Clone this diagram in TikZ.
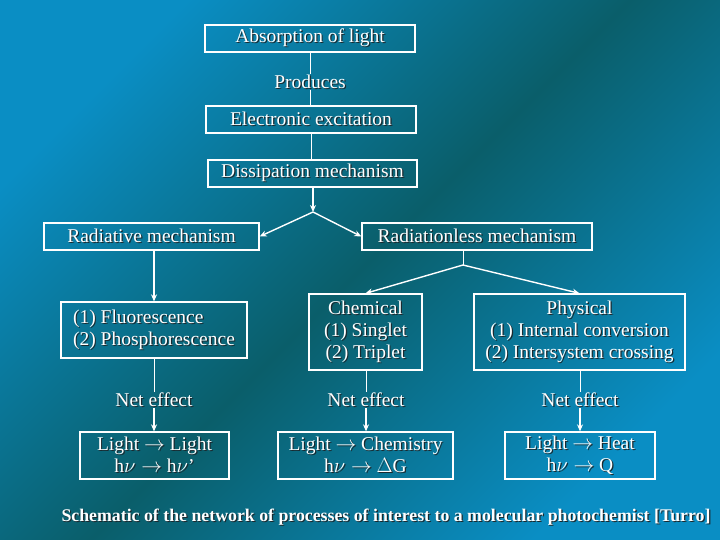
\documentclass[tikz,border=0pt]{standalone}
\usepackage{fontspec}
\setmainfont{Liberation Serif}
\usetikzlibrary{arrows.meta}
\definecolor{bgA}{HTML}{0A8EC4}
\definecolor{bgD}{HTML}{0A5E6A}
\definecolor{shc}{HTML}{1A2A30}
\newcommand\sht[1]{\leavevmode\rlap{\kern1.2pt\raisebox{-1.2pt}{\color{shc}#1}}#1}
\begin{document}
\begin{tikzpicture}[x=1pt,y=-1pt,
  txt/.style={text=white,font=\fontsize{19.5}{22}\selectfont,inner sep=0pt,align=center},
  box/.style={draw=white,line width=1.3pt,minimum height=27pt,inner sep=0pt},
  thin/.style={draw=white,line width=0.6pt},
  arr/.style={draw=white,line width=1.4pt,-{Stealth[length=7pt,width=6pt]}}]
\useasboundingbox (0,0) rectangle (720,540);
\shade[top color=bgA,bottom color=bgA,middle color=bgD,shading angle=45] (0,0) rectangle (720,540);
% boxes
\node[box,txt,minimum width=210pt] (abs) at (310,38.5) {\sht{Absorption of light}};
\node[txt] (prod) at (310,82) {\sht{Produces}};
\node[box,txt,minimum width=210pt] (elec) at (311,119.5) {\sht{Electronic excitation}};
\node[box,txt,minimum width=209pt] (diss) at (312.5,173.5) {\sht{Dissipation mechanism}};
\coordinate (sp1) at (313,212);
\node[box,txt,minimum width=215pt] (rad) at (151.5,236.5) {\sht{Radiative mechanism}};
\node[box,txt,minimum width=230pt] (rless) at (477,236.5) {\sht{Radiationless mechanism}};
\coordinate (sp2) at (463,265);
\node[box,txt,minimum width=186pt,minimum height=56pt,align=left] (fl) at (154,330) {\sht{(1) Fluorescence}\\\sht{(2) Phosphorescence}};
\node[box,txt,minimum width=113pt,minimum height=76pt] (chem) at (365.5,332) {\sht{Chemical}\\\sht{(1) Singlet}\\\sht{(2) Triplet}};
\node[box,txt,minimum width=211pt,minimum height=76pt] (phys) at (579.5,332) {\sht{Physical}\\\sht{(1) Internal conversion}\\\sht{(2) Intersystem crossing}};
\node[txt] (n1) at (154,400) {\sht{Net effect}};
\node[txt] (n2) at (366,400) {\sht{Net effect}};
\node[txt] (n3) at (580,400) {\sht{Net effect}};
\node[box,txt,minimum width=149pt,minimum height=47pt] (l1) at (154.5,455.5) {\sht{Light $\rightarrow$ Light}\\\sht{h$\nu\rightarrow$ h$\nu$'}};
\node[box,txt,minimum width=175pt,minimum height=47pt] (l2) at (365.5,455.5) {\sht{Light $\rightarrow$ Chemistry}\\\sht{h$\nu\rightarrow$ $\Delta$G}};
\node[box,txt,minimum width=150pt,minimum height=47pt] (l3) at (580,455.5) {\sht{Light $\rightarrow$ Heat}\\\sht{h$\nu\rightarrow$ Q}};
\node[txt,font=\fontsize{17.8}{21}\selectfont\bfseries] (cap) at (386,518) {\sht{Schematic of the network of processes of interest to a molecular photochemist [Turro]}};
% connectors
\draw[thin] (abs.south -| prod) -- (prod);
\draw[thin] (prod) -- (elec.north -| prod);
\draw[thin] (elec.south -| 311,0) -- (diss.north -| 311,0);
\draw[arr] (diss.south -| sp1) -- (sp1);
\draw[arr] (sp1) -- (rad.east);
\draw[arr] (sp1) -- (rless.west);
\draw[arr] (rad.south -| fl) -- (fl);
\draw[thin] (rless.south -| sp2) -- (sp2);
\draw[arr] (sp2) -- (chem.north);
\draw[arr] (sp2) -- (phys.north);
\draw[thin] (fl.south -| n1) -- (n1);
\draw[thin] (chem.south -| n2) -- (n2);
\draw[thin] (phys.south -| n3) -- (n3);
\draw[arr] (n1) -- (l1.north -| n1);
\draw[arr] (n2) -- (l2.north -| n2);
\draw[arr] (n3) -- (l3.north -| n3);
\end{tikzpicture}
\end{document}
